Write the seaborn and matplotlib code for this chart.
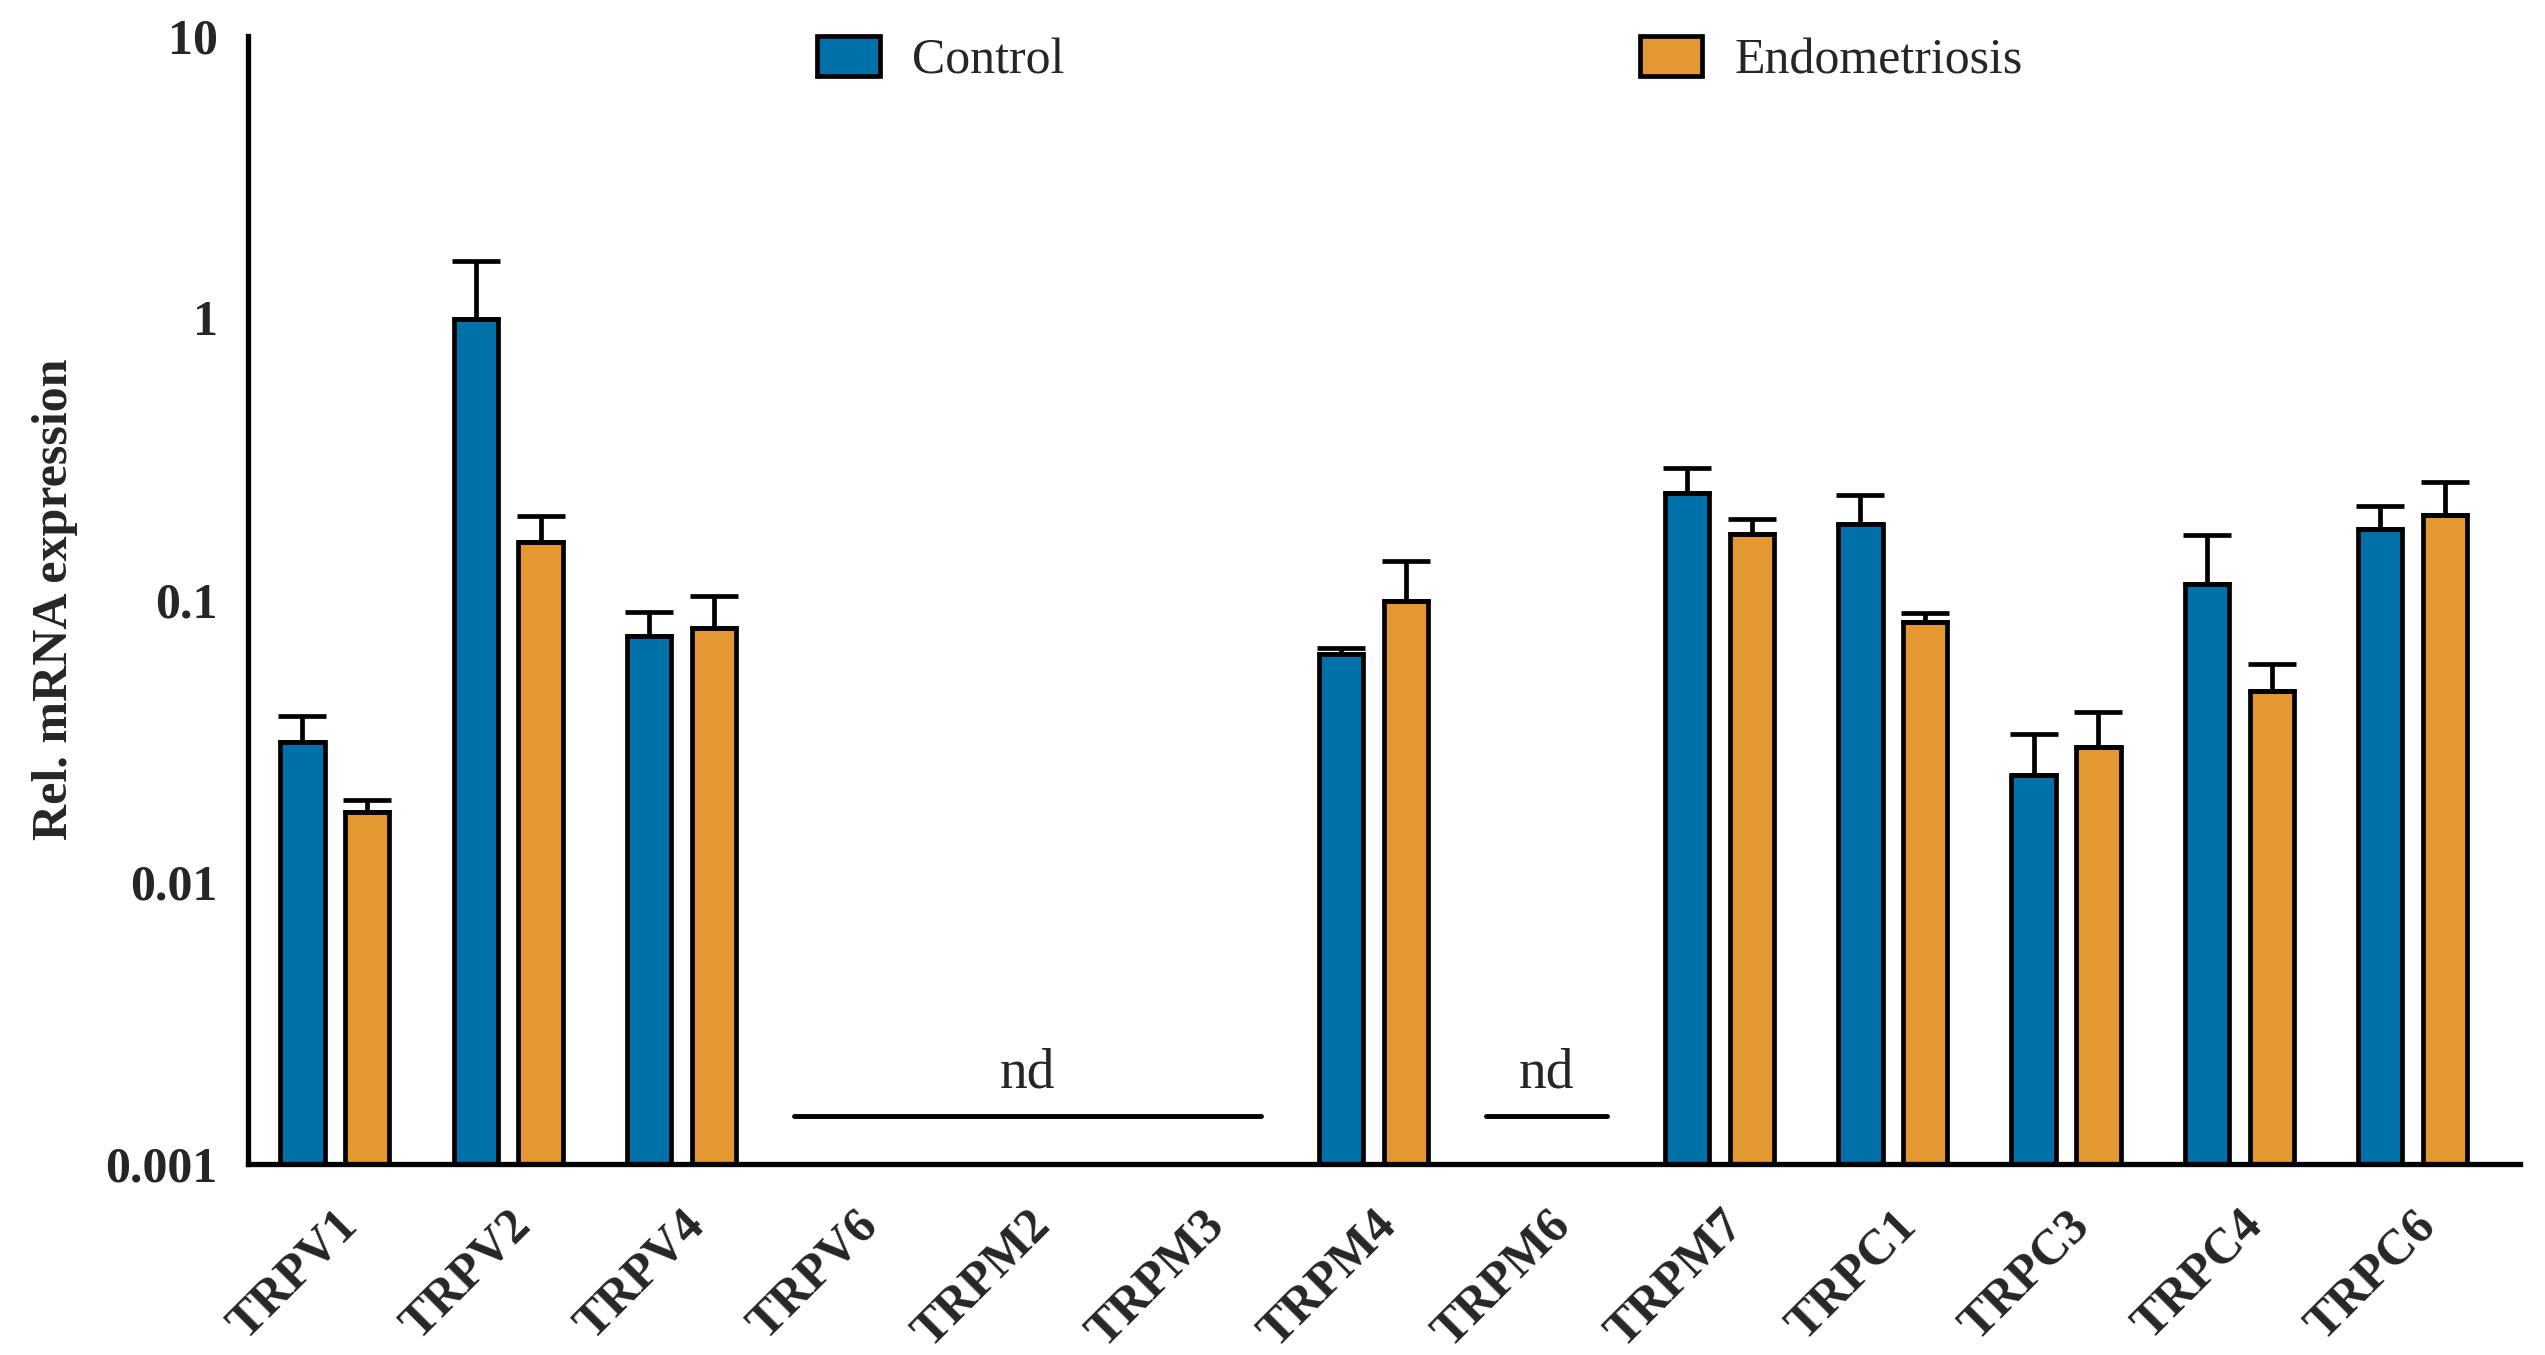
import numpy as np
import pandas as pd
import matplotlib
matplotlib.use('Agg')
import matplotlib.pyplot as plt
import seaborn as sns

# ---------- dados ----------
genes = ['TRPV1', 'TRPV2', 'TRPV4', 'TRPV6', 'TRPM2', 'TRPM3', 'TRPM4',
         'TRPM6', 'TRPM7', 'TRPC1', 'TRPC3', 'TRPC4', 'TRPC6']
control = [0.0313, 0.99, 0.0742, np.nan, np.nan, np.nan, 0.0642,
           np.nan, 0.238, 0.185, 0.0238, 0.1135, 0.178]
control_err = [0.0074, 0.595, 0.0163, np.nan, np.nan, np.nan, 0.0034,
               np.nan, 0.056, 0.050, 0.0097, 0.0555, 0.036]
endo = [0.0177, 0.160, 0.0793, np.nan, np.nan, np.nan, 0.099,
        np.nan, 0.171, 0.0836, 0.0301, 0.0473, 0.200]
endo_err = [0.0018, 0.038, 0.0237, np.nan, np.nan, np.nan, 0.038,
            np.nan, 0.022, 0.0058, 0.0097, 0.012, 0.061]
groups = ['Control', 'Endometriosis']
cores = ['#0070A8', '#E39832']
nd_spans = [('TRPV6', 'TRPM3'), ('TRPM6', 'TRPM6')]
nd_level = 0.00147
y_ticks = [0.001, 0.01, 0.1, 1, 10]
y_labels = ['0.001', '0.01', '0.1', '1', '10']

df = pd.DataFrame({
    'Gene': genes * 2,
    'Grupo': [groups[0]] * len(genes) + [groups[1]] * len(genes),
    'Valor': control + endo,
    'Erro': control_err + endo_err,
})

# ---------- figura ----------
sns.set_style('white')
plt.rcParams['font.family'] = ['Liberation Serif', 'DejaVu Serif']

fig = plt.figure(figsize=(25.45, 13.55), dpi=100)
ax = fig.add_axes([0.0976, 0.1413, 0.8924, 0.8324])
ax.set_yscale('log')

sns.barplot(data=df, x='Gene', y='Valor', hue='Grupo', order=genes,
            hue_order=groups, palette=cores, width=0.75, gap=0.32,
            errorbar=None, edgecolor='black', linewidth=3.4, saturation=1,
            ax=ax)

erros = {(g, grp): e for g, grp, e in zip(df['Gene'], df['Grupo'], df['Erro'])}
for cont, grp in zip(ax.containers, groups):
    for patch in cont.patches:
        h = patch.get_height()
        if not np.isfinite(h) or h <= 0:
            continue
        xc = patch.get_x() + patch.get_width() / 2
        gene = genes[int(round(xc))]
        ax.errorbar(xc, h, yerr=[[0], [erros[(gene, grp)]]], fmt='none',
                    ecolor='black', elinewidth=3.4, capsize=17, capthick=3.4,
                    zorder=1)

# linhas "nd"
for a, b in nd_spans:
    i0, i1 = genes.index(a), genes.index(b)
    ax.plot([i0 - 0.35, i1 + 0.35], [nd_level, nd_level], color='black',
            lw=3.5, solid_capstyle='round')
    ax.text((i0 + i1) / 2, nd_level * 1.15, 'nd', ha='center', va='bottom',
            fontsize=40)

ax.set_ylim(0.001, 10)
ax.set_xlim(-0.5, len(genes) - 0.38)
ax.set_yticks(y_ticks)
ax.set_yticklabels(y_labels, fontsize=36, fontweight='bold')
ax.yaxis.set_minor_locator(matplotlib.ticker.NullLocator())
ax.set_xticks(range(len(genes)))
ax.set_xticklabels(genes, rotation=45, ha='right', rotation_mode='anchor',
                   fontsize=36, fontweight='bold')
ax.tick_params(axis='both', direction='out', width=3.5, length=14,
               color='black', pad=8)
ax.tick_params(axis='x', pad=14)
ax.set_xlabel('')
ax.set_ylabel('Rel. mRNA expression', fontsize=36, fontweight='bold',
              labelpad=20)
for s in ['top', 'right']:
    ax.spines[s].set_visible(False)
for s in ['left', 'bottom']:
    ax.spines[s].set_linewidth(3.8)
    ax.spines[s].set_color('black')

ax.legend(loc='center', bbox_to_anchor=(0.516, 0.978), ncol=2,
          frameon=False, fontsize=36, columnspacing=11.5, handlelength=1.25,
          handleheight=0.85, handletextpad=0.65)

plt.savefig('out.png', dpi=100)
plt.close()
